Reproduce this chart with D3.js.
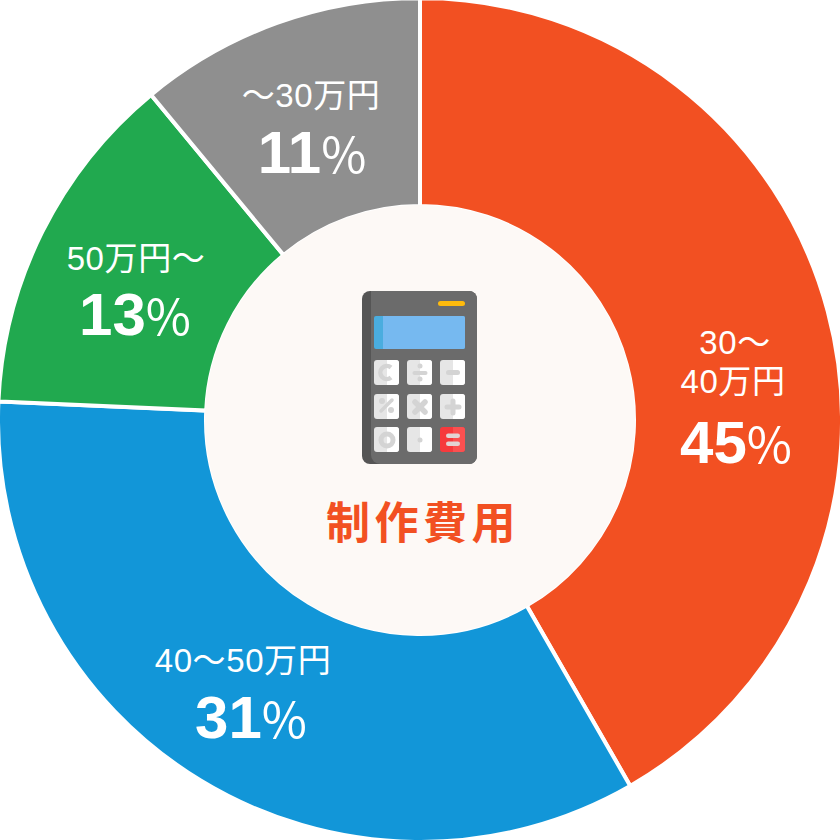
<!DOCTYPE html>
<html>
<head>
<meta charset="utf-8">
<script src="https://cdn.jsdelivr.net/npm/d3@7"></script>
<style>
  html, body { margin: 0; padding: 0; background: #fff; }
  svg { display: block; }
  text { font-family: "Liberation Sans", "Noto Sans CJK JP", sans-serif; }
</style>
</head>
<body>
<svg id="chart" width="840" height="840"></svg>
<script>
const title = "制作費用";
const categories = [["30〜", "40万円"], ["40〜50万円"], ["50万円〜"], ["〜30万円"]];
// printed percentages differ from the drawn slice sizes in the source picture
const percentLabels = [45, 31, 13, 11];
const sliceValues = [41.7, 34, 13.3, 11];
const colors = ["#f25022", "#1296d8", "#21a94f", "#8f8f8f"];

// percent label: [x, baseline y]
const labelPos = [[736, 463], [251, 738], [135, 335], [312, 173]];
// category label, one [x, baseline y] per line
const categoryPos = [[[735, 354], [733, 393]], [[243, 672]], [[136, 270]], [[311, 107]]];

const svg = d3.select("#chart");
const cx = 420, cy = 420;
const outer = 422, inner = 214;

const pie = d3.pie().sort(null).value((d) => d);
const arc = d3.arc().innerRadius(inner).outerRadius(outer);

const g = svg.append("g").attr("transform", `translate(${cx}, ${cy})`);

// slices
g.selectAll(".slice")
  .data(pie(sliceValues))
  .enter()
  .append("path")
  .attr("class", "slice")
  .attr("d", arc)
  .attr("fill", (d, i) => colors[i])
  .attr("stroke", "#fff")
  .attr("stroke-width", 4);

// middle
g.append("circle").attr("r", 215).attr("fill", "#fdf9f6");

svg.append("text")
  .attr("x", 423)
  .attr("y", 539)
  .attr("text-anchor", "middle")
  .attr("fill", "#f25022")
  .style("font-family", '"Noto Sans CJK JP"')
  .style("font-size", "44px")
  .style("font-weight", 700)
  .style("letter-spacing", "4.5px")
  .text(title);

// labels
categories.forEach((lines, i) => {
  const [x, y] = labelPos[i];
  const t = svg.append("g").attr("fill", "#fff");
  lines.forEach((line, j) => {
    const [lx, ly] = categoryPos[i][j];
    t.append("text")
      .attr("x", lx)
      .attr("y", ly)
      .attr("text-anchor", "middle")
      .style("font-size", "33px")
      .style("letter-spacing", "0.6px")
      .text(line);
  });
  const pct = t.append("text")
    .attr("x", x)
    .attr("y", y)
    .attr("text-anchor", "middle");
  pct.append("tspan")
    .style("font-size", "60px")
    .style("font-weight", 700)
    .text(percentLabels[i]);
  pct.append("tspan")
    .style("font-family", '"Noto Sans CJK JP"')
    .style("font-size", "49px")
    .style("font-weight", 400)
    .text("%");
});

// calculator icon
const icon = svg.append("g").attr("transform", "translate(340, 270)");
const rect = (x, y, w, h, r, fill) =>
  icon.append("rect").attr("x", x).attr("y", y).attr("width", w).attr("height", h).attr("rx", r).attr("fill", fill);

rect(22, 21, 115, 173, 8, "#555555");
icon.append("path")
  .attr("d", "M31,21 H129 a8,8 0 0 1 8,8 V186 a8,8 0 0 1 -8,8 H40 a9,9 0 0 1 -9,-9 Z")
  .attr("fill", "#6b6b6b");
rect(98, 31, 27, 5, 2.5, "#ffbb0d");
rect(34, 46, 91, 33, 2, "#4aaddf");
icon.append("path")
  .attr("d", "M43,46 H123 a2,2 0 0 1 2,2 V77 a2,2 0 0 1 -2,2 H43 Z")
  .attr("fill", "#76b9f0");

const keyX = [34, 67, 100], keyY = [90, 124, 157];
keyY.forEach((y, r) => {
  keyX.forEach((x, c) => {
    const red = r === 2 && c === 2;
    rect(x, y, 25, 25, 3, red ? "#f6393c" : "#e6e6e6");
    icon.append("path")
      .attr("d", `M${x + 13},${y} h9 a3,3 0 0 1 3,3 v19 a3,3 0 0 1 -3,3 h-9 Z`)
      .attr("fill", red ? "#fb5050" : "#ffffff");
  });
});

const glyph = "#d4d4d4";
// C
icon.append("path").attr("d", "M51,97.5 A6.5,6.5 0 1 0 51,107.5").attr("fill", "none").attr("stroke", glyph).attr("stroke-width", 4.5);
// divide
rect(72.5, 101, 15, 4, 2, glyph);
icon.append("circle").attr("cx", 80).attr("cy", 96).attr("r", 2.5).attr("fill", glyph);
icon.append("circle").attr("cx", 80).attr("cy", 109).attr("r", 2.5).attr("fill", glyph);
// minus
rect(106, 100, 14, 5, 2.5, glyph);
// percent
icon.append("circle").attr("cx", 42).attr("cy", 131).attr("r", 3).attr("fill", glyph);
icon.append("circle").attr("cx", 51).attr("cy", 140).attr("r", 3).attr("fill", glyph);
icon.append("line").attr("x1", 41).attr("y1", 141).attr("x2", 52).attr("y2", 130).attr("stroke", glyph).attr("stroke-width", 3.5).attr("stroke-linecap", "round");
// times
icon.append("path").attr("d", "M75,132 L85,142 M85,132 L75,142").attr("stroke", glyph).attr("stroke-width", 5.5).attr("stroke-linecap", "round");
// plus
icon.append("path").attr("d", "M113,131 V143 M107,137 H119").attr("stroke", glyph).attr("stroke-width", 5).attr("stroke-linecap", "round");
// zero
icon.append("circle").attr("cx", 47).attr("cy", 170).attr("r", 6).attr("fill", "none").attr("stroke", glyph).attr("stroke-width", 5);
// point
icon.append("circle").attr("cx", 80).attr("cy", 170).attr("r", 2.5).attr("fill", glyph);
// equals
rect(106, 163.5, 14, 4.5, 2.2, "#e2d4d4");
rect(106, 171.5, 14, 4.5, 2.2, "#e2d4d4");
</script>
</body>
</html>
